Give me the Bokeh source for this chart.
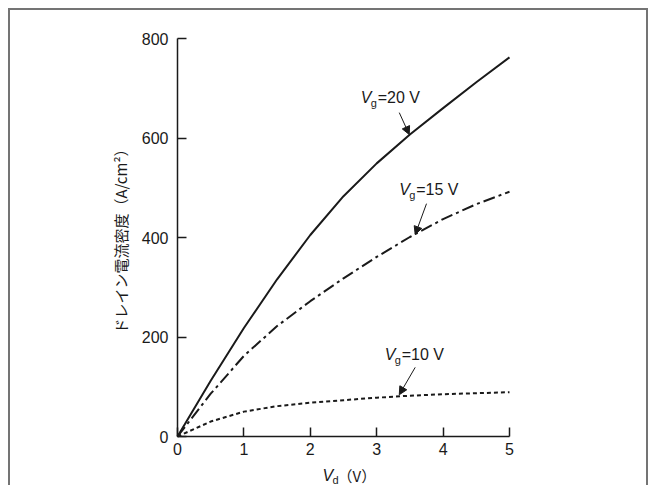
from bokeh.plotting import figure
from bokeh.models import Range1d, FixedTicker, Label, Arrow, NormalHead
from bokeh.embed import file_html
from bokeh.resources import INLINE

# ---- data ----
vd = [0, 0.5, 1, 1.5, 2, 2.5, 3, 3.5, 4, 4.5, 5]
j_vg20 = [0, 112, 218, 316, 405, 483, 549, 607, 660, 712, 762]
j_vg15 = [0, 86, 162, 222, 272, 318, 361, 401, 437, 467, 492]
j_vg10 = [0, 30, 50, 61, 68, 73, 78, 82, 85, 87, 89]

x_ticks = [0, 1, 2, 3, 4, 5]
y_ticks = [0, 200, 400, 600, 800]

# annotation texts and their positions (data units)
ann_text = ["=20 V", "=15 V", "=10 V"]
ann_label_x = [2.76, 3.34, 3.12]
ann_label_y = [665, 480, 147]
ann_arrow_x0 = [3.34, 3.75, 3.58]
ann_arrow_y0 = [651, 468, 139]
ann_arrow_x1 = [3.49, 3.58, 3.34]
ann_arrow_y1 = [607, 406, 84]

FONT = "Liberation Sans"
JFONT = "Noto Sans CJK JP"
INK = "#1a1a1a"

# ---- layout (pixels) ----
W, H = 640, 477                 # canvas size
X0_PX, X_SPAN_PX = 167, 332     # where x=0 sits, width of 0..5
Y_TOP_PX, Y_SPAN_PX = 28, 398   # where y=800 sits, height of 0..800
X_LO, X_HI = 0, 5
Y_LO, Y_HI = 0, 800
ux = (X_HI - X_LO) / X_SPAN_PX
uy = (Y_HI - Y_LO) / Y_SPAN_PX
x_range = Range1d(X_LO - X0_PX * ux, X_LO + (W - X0_PX) * ux)
y_range = Range1d(Y_HI - (H - Y_TOP_PX) * uy, Y_HI + Y_TOP_PX * uy)

p = figure(width=W, height=H, output_backend="svg", toolbar_location=None,
           x_range=x_range, y_range=y_range,
           min_border_left=0, min_border_right=0,
           min_border_top=0, min_border_bottom=0)
p.title.visible = False
# outer frame, open at the bottom like the reference
p.styles = {"margin-left": "8px", "margin-top": "8px",
            "border-top": "2px solid #747474", "border-left": "2px solid #747474",
            "border-right": "2px solid #747474"}
p.outline_line_color = None
p.grid.visible = False
p.background_fill_color = "white"
p.border_fill_color = "white"

# curves
p.line(vd, j_vg20, line_color=INK, line_width=2)
p.line(vd, j_vg15, line_color=INK, line_width=2, line_dash="12 4 3 4")
p.line(vd, j_vg10, line_color=INK, line_width=2, line_dash="4 3")

# axes
for ax in (p.xaxis[0], p.yaxis[0]):
    ax.axis_line_color = INK
    ax.axis_line_width = 1.5
    ax.major_tick_line_color = INK
    ax.major_tick_line_width = 1.5
    ax.major_tick_in = 9
    ax.major_tick_out = 0
    ax.minor_tick_line_color = None
    ax.major_label_text_font = FONT
    ax.major_label_text_font_size = "16px"
    ax.major_label_text_color = INK

p.xaxis.ticker = FixedTicker(ticks=x_ticks)
p.yaxis.ticker = FixedTicker(ticks=y_ticks)
p.xaxis.fixed_location = Y_LO
p.yaxis.fixed_location = X_LO
p.xaxis.bounds = (X_LO, X_HI)
p.yaxis.bounds = (Y_LO, Y_HI)
p.xaxis.major_label_standoff = 6
p.yaxis.major_label_standoff = 9

p.yaxis.axis_label = "ドレイン電流密度（A/cm²）"
p.yaxis.axis_label_text_font = JFONT
p.yaxis.axis_label_text_font_style = "normal"
p.yaxis.axis_label_text_font_size = "15px"
p.yaxis.axis_label_text_color = INK
p.yaxis.axis_label_standoff = 8

# x axis label: V_d (V), placed below the x axis
p.add_layout(Label(x=2.5, y=0, x_offset=-21, y_offset=-47, text="V",
                   text_font=FONT, text_font_style="italic",
                   text_font_size="16px", text_color=INK))
p.add_layout(Label(x=2.5, y=0, x_offset=-11, y_offset=-49, text="d",
                   text_font=FONT, text_font_size="11px", text_color=INK))
p.add_layout(Label(x=2.5, y=0, x_offset=-6, y_offset=-49, text="（V）",
                   text_font=JFONT, text_font_size="15px", text_color=INK))

# curve annotations
for t, lx, ly, ax0, ay0, ax1, ay1 in zip(ann_text, ann_label_x, ann_label_y,
                                         ann_arrow_x0, ann_arrow_y0,
                                         ann_arrow_x1, ann_arrow_y1):
    p.add_layout(Label(x=lx, y=ly, text="V", text_font=FONT, text_font_style="italic",
                       text_font_size="16px", text_color=INK))
    p.add_layout(Label(x=lx, y=ly, x_offset=10, y_offset=-3, text="g", text_font=FONT,
                       text_font_size="11px", text_color=INK))
    p.add_layout(Label(x=lx, y=ly, x_offset=17, text=t, text_font=FONT,
                       text_font_size="16px", text_color=INK))
    p.add_layout(Arrow(x_start=ax0, y_start=ay0, x_end=ax1, y_end=ay1,
                       line_color=INK, line_width=1,
                       end=NormalHead(size=8, fill_color=INK, line_color=INK)))

open("out.html", "w").write(file_html(p, INLINE))
